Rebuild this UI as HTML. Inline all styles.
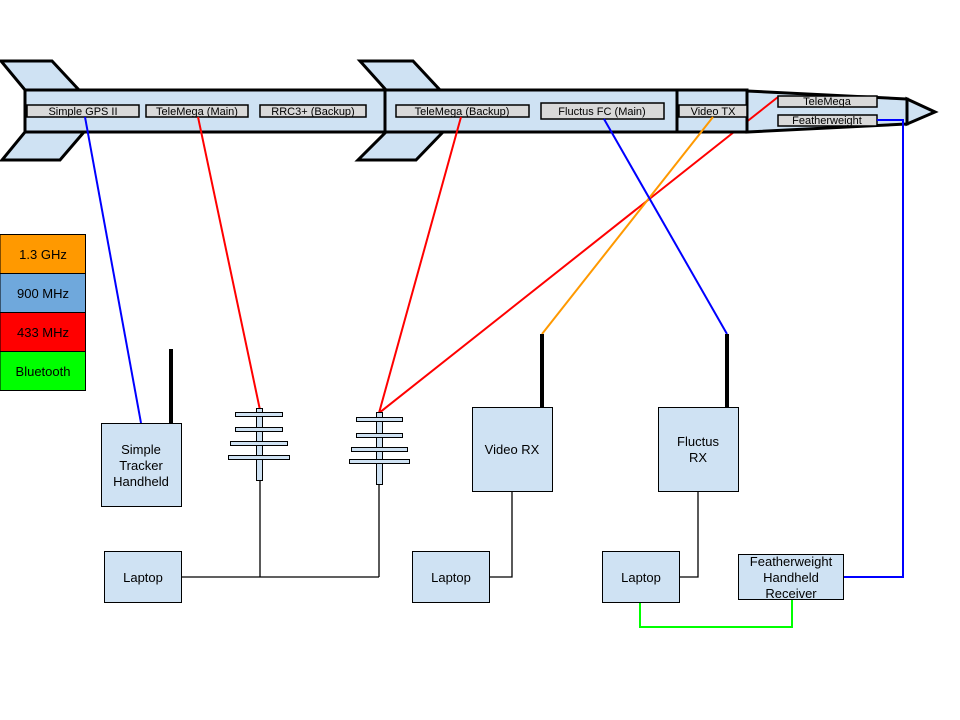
<!DOCTYPE html>
<html><head><meta charset="utf-8"><style>
html,body{margin:0;padding:0;background:#fff;width:960px;height:720px;overflow:hidden}
svg text{font-family:"Liberation Sans",Arial,sans-serif;fill:#000}
</style></head><body>
<svg width="960" height="720" viewBox="0 0 960 720" xmlns="http://www.w3.org/2000/svg">
<g fill="#cfe2f3" stroke="#000" stroke-width="3" stroke-linejoin="miter">
<polygon points="1,61 52,61 79,90 25,90"/>
<polygon points="25,132 84,132 60,160 2,160"/>
<polygon points="360,61 413,61 440,90 386,90"/>
<polygon points="386,132 443,132 416,160 358,160"/>
<polygon points="747,91 907,99 907,124 747,132"/>
<polygon points="907,99 935,112 907,124"/>
</g>
<g stroke="#ff0000" stroke-width="2">
<line x1="778" y1="97" x2="747" y2="121.5"/>
<line x1="734" y1="132" x2="379" y2="413"/>
</g>
<g fill="#cfe2f3" stroke="#000" stroke-width="3">
<rect x="25" y="90" width="360" height="42"/>
<rect x="385" y="90" width="292" height="42"/>
<rect x="677" y="90" width="70" height="42"/>
</g>
<g fill="#d9d9d9" stroke="#000" stroke-width="1.5">
<rect x="27" y="105" width="112" height="12"/>
<rect x="146" y="105" width="102" height="12"/>
<rect x="260" y="105" width="106" height="12"/>
<rect x="396" y="105" width="133" height="12"/>
<rect x="541" y="103" width="123" height="16"/>
<rect x="679" y="105" width="68" height="12"/>
<rect x="778" y="96" width="99" height="11"/>
<rect x="778" y="115" width="99" height="11"/>
</g>
<g font-size="11" text-anchor="middle">
<text x="83" y="115">Simple GPS II</text>
<text x="197" y="115">TeleMega (Main)</text>
<text x="313" y="115">RRC3+ (Backup)</text>
<text x="462" y="115">TeleMega (Backup)</text>
<text x="602" y="115">Fluctus FC (Main)</text>
<text x="713" y="115">Video TX</text>
<text x="827" y="105">TeleMega</text>
<text x="827" y="124">Featherweight</text>
</g>
<g fill="none" stroke-width="2">
<line x1="85" y1="117" x2="141" y2="423" stroke="#0000ff"/>
<line x1="198" y1="117" x2="260" y2="410" stroke="#ff0000"/>
<line x1="461" y1="117" x2="379" y2="413" stroke="#ff0000"/>
<line x1="713" y1="117" x2="542" y2="334" stroke="#ff9900"/>
<line x1="604" y1="119" x2="727" y2="334" stroke="#0000ff"/>
<polyline points="877,120 903,120 903,577 843,577" stroke="#0000ff"/>
<polyline points="640,602 640,627 792,627 792,600" stroke="#00ff00"/>
</g>
<g stroke="#000" stroke-width="4">
<line x1="171" y1="349" x2="171" y2="423"/>
<line x1="542" y1="334" x2="542" y2="407"/>
<line x1="727" y1="334" x2="727" y2="407"/>
</g>
<g fill="none" stroke="#000" stroke-width="1.3">
<polyline points="260,480 260,577"/>
<polyline points="379,484 379,577"/>
<polyline points="181,577 379,577"/>
<polyline points="512,491 512,577 489,577"/>
<polyline points="698,491 698,577 679,577"/>
</g>
<g fill="#cfe2f3" stroke="#000" stroke-width="1">
<rect x="256.5" y="408.5" width="6" height="72"/>
<rect x="235.5" y="412.5" width="47" height="4"/>
<rect x="235.5" y="427.5" width="47" height="4"/>
<rect x="230.5" y="441.5" width="57" height="4"/>
<rect x="228.5" y="455.5" width="61" height="4"/>
<rect x="376.5" y="412.5" width="6" height="72"/>
<rect x="356.5" y="417.5" width="46" height="4"/>
<rect x="356.5" y="433.5" width="46" height="4"/>
<rect x="351.5" y="447.5" width="56" height="4"/>
<rect x="349.5" y="459.5" width="60" height="4"/>
<rect x="101.5" y="423.5" width="80" height="83"/>
<rect x="472.5" y="407.5" width="80" height="84"/>
<rect x="658.5" y="407.5" width="80" height="84"/>
<rect x="104.5" y="551.5" width="77" height="51"/>
<rect x="412.5" y="551.5" width="77" height="51"/>
<rect x="602.5" y="551.5" width="77" height="51"/>
<rect x="738.5" y="554.5" width="105" height="45"/>
</g>
<g stroke="#000" stroke-width="1">
<rect x="0" y="234.5" width="85.5" height="39" fill="#ff9900"/>
<rect x="0" y="273.5" width="85.5" height="39" fill="#6fa8dc"/>
<rect x="0" y="312.5" width="85.5" height="39" fill="#ff0000"/>
<rect x="0" y="351.5" width="85.5" height="39" fill="#00ff00"/>
</g>
<g font-size="13" text-anchor="middle">
<text x="43" y="259">1.3 GHz</text>
<text x="43" y="298">900 MHz</text>
<text x="43" y="337">433 MHz</text>
<text x="43" y="376">Bluetooth</text>
<text x="141" y="454">Simple</text>
<text x="141" y="470">Tracker</text>
<text x="141" y="486">Handheld</text>
<text x="512" y="454">Video RX</text>
<text x="698" y="446">Fluctus</text>
<text x="698" y="462">RX</text>
<text x="143" y="582">Laptop</text>
<text x="451" y="582">Laptop</text>
<text x="641" y="582">Laptop</text>
<text x="791" y="566">Featherweight</text>
<text x="791" y="582">Handheld</text>
<text x="791" y="598">Receiver</text>
</g>
</svg>
</body></html>
